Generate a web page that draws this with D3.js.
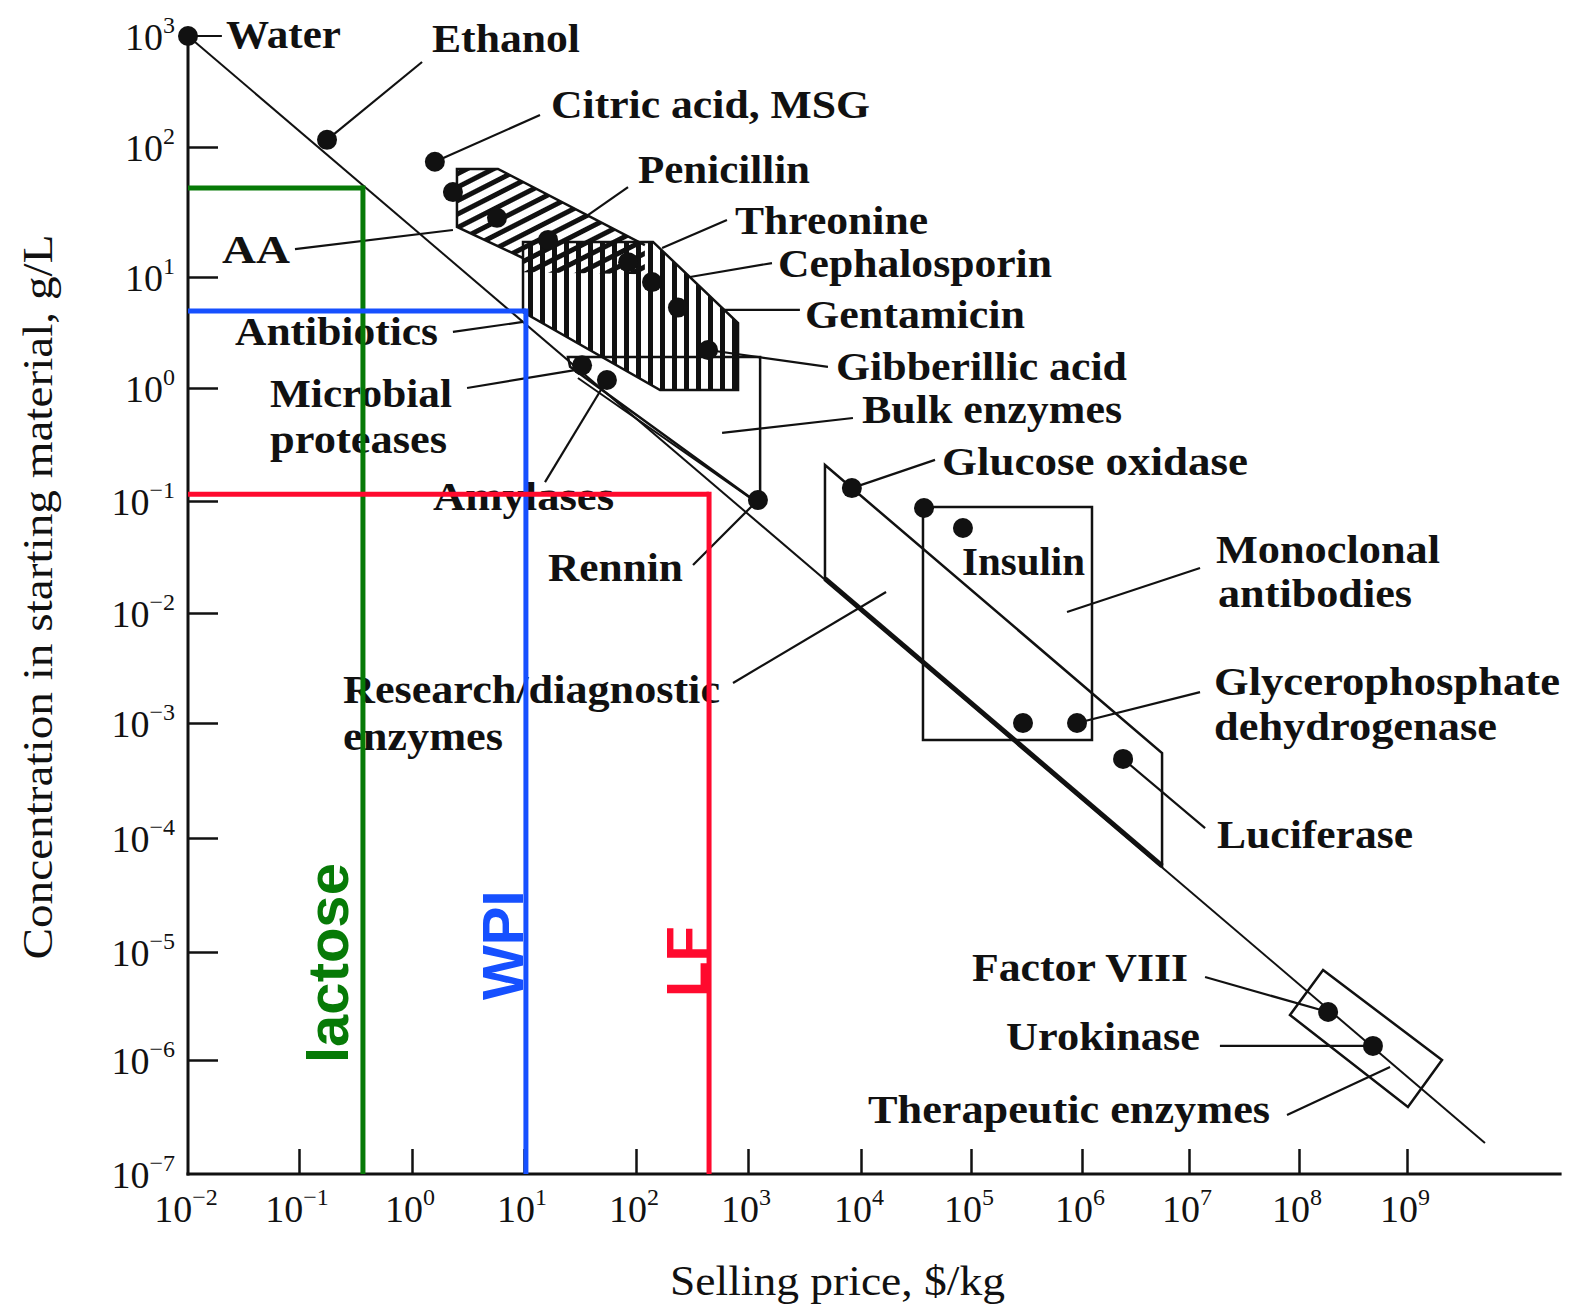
<!DOCTYPE html>
<html><head><meta charset="utf-8">
<script src="https://cdn.jsdelivr.net/npm/d3@7"></script>
<style>body{margin:0;background:#fff}</style>
</head><body>
<svg id="chart" width="1573" height="1308"></svg>
<script>
// ---------- axis ticks ----------
const xTickValues = [1e-2,1e-1,1,10,100,1e3,1e4,1e5,1e6,1e7,1e8,1e9];
const xTickExponents = ["\u22122","\u22121","0","1","2","3","4","5","6","7","8","9"];
const yTickValues = [1e3,1e2,10,1,0.1,1e-2,1e-3,1e-4,1e-5,1e-6,1e-7];
const yTickExponents = ["3","2","1","0","\u22121","\u22122","\u22123","\u22124","\u22125","\u22126","\u22127"];
const xAxisMax = 2.7e10;

// ---------- data: selling price ($/kg) and concentration (g/L) ----------
const dotPrice = [0.01, 0.177, 1.6, 2.32, 5.74, 16.4, 85, 139, 237, 440, 33, 55, 1225, 8300, 37400, 84500, 294000, 902000, 2.42e6, 1.86e8, 4.84e8];
const dotConc  = [1000, 116, 77, 45, 28.5, 19.3, 13, 9.0, 5.3, 2.2, 1.6, 1.18, 0.102, 0.13, 0.0866, 0.0574, 0.001, 0.001, 4.87e-4, 2.78e-6, 1.35e-6];

const trendLine = [[0.01, 1000], [5.27e9, 1.87e-7]];

const aaRegion = [[2.52,67.8],[5.86,67.8],[120,17.6],[120,10.5],[9.8,10.9],[9.8,14.0],[2.52,24.3]];
const aaOutline = [[9.8,14.0],[2.52,24.3],[2.52,67.8],[5.86,67.8],[120,17.6]];
const antibioticRegion = [[9.8,18.6],[142,18.6],[815,3.85],[815,0.96],[164,0.96],[9.8,4.84]];
const bulkEnzymeRegion = [[24.7,1.90],[1280,1.90],[1280,0.108],[1040,0.108],[25.8,1.55]];
const bulkEnzymeInner = [[30.3,1.23],[1085,0.104]];
const researchRegion = [[4800,0.208],[5.6e6,5.48e-4],[5.6e6,5.7e-5],[4800,0.0203]];
const researchLower = [[4800,0.0203],[5.6e6,5.7e-5]];
const insulinBox = [[3.66e4,0.0884],[1.24e6,0.0884],[1.24e6,7.11e-4],[3.66e4,7.11e-4]];
const therapeuticBox = [[1.67e8,6.81e-6],[2.11e9,1e-6],[1.02e9,3.87e-7],[8.28e7,2.61e-6]];

const leaderFrom = [[0.01,1000],[0.177,116],[1.6,77],[35.1,28.9],[171,16.7],[303,10],[562,5.05],[440,2.2],[587,0.40],[8300,0.13],[7.33e5,0.0102],[902000,0.001],[2.42e6,4.87e-4],[1.86e8,2.78e-6],[4.84e8,1.35e-6],[6.97e8,8.68e-7],[1.69e4,0.0154],[1225,0.102],[55,1.18],[28.5,1.45],[9.8,3.94],[2.32,23.0]];
const leaderTo   = [[0.0202,1000],[1.23,583],[13.9,194],[84.9,49.2],[649,27.4],[1630,12.8],[2880,5.05],[5100,1.55],[8490,0.543],[4.71e4,0.231],[1.26e7,0.0252],[1.26e7,1.91e-3],[1.40e7,1.22e-4],[1.40e7,5.87e-6],[1.91e7,1.35e-6],[7.78e7,3.30e-7],[735,2.31e-3],[323,0.0268],[15.4,0.147],[3.10,1.0],[2.32,3.20],[0.092,16.4]];

const markerNames = ["lactose", "WPI", "LF"];
const markerPrice = [0.368, 10.4, 449];
const markerConc  = [48.4, 4.94, 0.115];
const markerColors = ["#077a07", "#1650ff", "#ff0a2e"];

const labelTexts = ["Water","Ethanol","Citric acid, MSG","Penicillin","Threonine","Cephalosporin","Gentamicin","Gibberillic acid","Bulk enzymes","Glucose oxidase","Insulin","Monoclonal","antibodies","Glycerophosphate","dehydrogenase","Luciferase","Factor VIII","Urokinase","Therapeutic enzymes","Research/diagnostic","enzymes","Rennin","Amylases","Microbial","proteases","Antibiotics","AA"];

// ---------- layout (pixels) ----------
const labelLayout = [[226,48,115],[432,52,148],[551,118,319],[638,183,172],[735,234,193],[778,277,274],[805,328,220],[836,380,291],[862,423,260],[942,475,306],[962,575,123],[1216,563,224],[1218,607,194],[1214,695,346],[1214,740,283],[1217,848,196],[972,981,216],[1006,1050,194],[868,1123,402],[343,703,377],[343,750,160],[548,581,135],[433,510,181],[270,407,182],[270,453,177],[235,345,203],[222,263,68]];
const markerTextLayout = [[348,1063],[523,1000],[707,997]];

const svg = d3.select("#chart");
const x = d3.scaleLog().domain(xTickValues).range([188,299,412,524,636,748,861,971,1082,1189,1299,1407]);
const y = d3.scaleLog().domain(yTickValues).range([36,147,277,388,501,613,723,838,952,1060,1174]);
const ink = "#111";
const serif = "'Liberation Serif', 'Times New Roman', serif";

// patterns
const defs = svg.append("defs");
defs.append("pattern").attr("id","diag").attr("patternUnits","userSpaceOnUse")
  .attr("width",12).attr("height",12).attr("patternTransform","rotate(-27)")
  .append("rect").attr("x",0).attr("y",0).attr("width",12).attr("height",5).attr("fill",ink);
defs.append("pattern").attr("id","vert").attr("patternUnits","userSpaceOnUse")
  .attr("width",12).attr("height",12)
  .append("rect").attr("x",0).attr("y",0).attr("width",5).attr("height",12).attr("fill",ink);

const line = d3.line().x(d => x(d[0])).y(d => y(d[1]));
const poly = pts => line(pts) + "Z";

// axes
const yAxis = d3.axisLeft(y).tickValues(yTickValues.slice(1, -1)).tickSize(-30).tickFormat(() => "");
const gy = svg.append("g").attr("transform", `translate(${x(1e-2)},0)`).call(yAxis);
gy.select(".domain").remove();
gy.selectAll(".tick line").attr("stroke", ink).attr("stroke-width", 2.5);
const xAxis = d3.axisBottom(x).tickValues(xTickValues.slice(1)).tickSize(-25).tickFormat(() => "");
const gx = svg.append("g").attr("transform", `translate(0,${y(1e-7)})`).call(xAxis);
gx.select(".domain").remove();
gx.selectAll(".tick line").attr("stroke", ink).attr("stroke-width", 2.5);
svg.append("line").attr("x1", x(1e-2)).attr("x2", x(1e-2)).attr("y1", y(1e3)).attr("y2", y(1e-7) + 1.5)
  .attr("stroke", ink).attr("stroke-width", 3);
svg.append("line").attr("x1", x(1e-2) - 1.5).attr("x2", x(xAxisMax)).attr("y1", y(1e-7)).attr("y2", y(1e-7))
  .attr("stroke", ink).attr("stroke-width", 3);

// tick labels
yTickValues.forEach((v, i) => {
  const t = svg.append("text").attr("x", 175).attr("y", y(v) + 14).attr("text-anchor", "end")
    .attr("font-family", serif).attr("fill", ink);
  t.append("tspan").attr("font-size", 38).text("10");
  t.append("tspan").attr("font-size", 24).attr("dy", -17).text(yTickExponents[i]);
});
xTickValues.forEach((v, i) => {
  const t = svg.append("text").attr("x", x(v) - 2).attr("y", 1222).attr("text-anchor", "middle")
    .attr("font-family", serif).attr("fill", ink);
  t.append("tspan").attr("font-size", 38).text("10");
  t.append("tspan").attr("font-size", 24).attr("dy", -17).text(xTickExponents[i]);
});

// axis titles
svg.append("text").attr("transform", "translate(52,597) rotate(-90)").attr("text-anchor", "middle")
  .attr("font-family", serif).attr("font-size", 42).attr("fill", ink)
  .attr("textLength", 725).attr("lengthAdjust", "spacingAndGlyphs")
  .text("Concentration in starting material, g/L");
svg.append("text").attr("x", 670).attr("y", 1295)
  .attr("font-family", serif).attr("font-size", 42).attr("fill", ink)
  .attr("textLength", 335).attr("lengthAdjust", "spacingAndGlyphs")
  .text("Selling price, $/kg");

// regions
svg.append("path").attr("d", poly(aaRegion)).attr("fill", "url(#diag)").attr("stroke", "none");
svg.append("path").attr("d", line(aaOutline)).attr("fill", "none").attr("stroke", ink).attr("stroke-width", 2.5);
svg.append("path").attr("d", poly(antibioticRegion)).attr("fill", "url(#vert)").attr("stroke", ink).attr("stroke-width", 2.5);
svg.append("path").attr("d", poly(bulkEnzymeRegion)).attr("fill", "none").attr("stroke", ink).attr("stroke-width", 2.5);
svg.append("path").attr("d", line(bulkEnzymeInner)).attr("fill", "none").attr("stroke", ink).attr("stroke-width", 2);
svg.append("path").attr("d", poly(researchRegion)).attr("fill", "none").attr("stroke", ink).attr("stroke-width", 2.5);
svg.append("path").attr("d", line(researchLower)).attr("fill", "none").attr("stroke", ink).attr("stroke-width", 5);
svg.append("path").attr("d", poly(insulinBox)).attr("fill", "none").attr("stroke", ink).attr("stroke-width", 2.5);
svg.append("path").attr("d", poly(therapeuticBox)).attr("fill", "none").attr("stroke", ink).attr("stroke-width", 2.5);

// trend line
svg.append("path").attr("d", line(trendLine)).attr("fill", "none").attr("stroke", ink).attr("stroke-width", 2);

// leaders
leaderFrom.forEach((a, i) => {
  svg.append("path").attr("d", line([a, leaderTo[i]])).attr("fill", "none").attr("stroke", ink).attr("stroke-width", 2.2);
});

// dots
svg.append("g").selectAll("circle").data(dotPrice).join("circle")
  .attr("cx", d => x(d)).attr("cy", (d, i) => y(dotConc[i])).attr("r", 10).attr("fill", ink);

// labels
labelTexts.forEach((s, i) => {
  const [lx, ly, w] = labelLayout[i];
  svg.append("text").attr("x", lx).attr("y", ly).attr("font-family", serif).attr("font-size", 41)
    .attr("font-weight", "bold").attr("fill", ink)
    .attr("textLength", w).attr("lengthAdjust", "spacingAndGlyphs").text(s);
});

// coloured product markers
markerNames.forEach((name, i) => {
  const c = markerColors[i];
  svg.append("line").attr("x1", x(1e-2)).attr("x2", x(markerPrice[i])).attr("y1", y(markerConc[i])).attr("y2", y(markerConc[i]))
    .attr("stroke", c).attr("stroke-width", 5);
  svg.append("line").attr("x1", x(markerPrice[i])).attr("x2", x(markerPrice[i])).attr("y1", y(markerConc[i]) - 2.5).attr("y2", y(1e-7))
    .attr("stroke", c).attr("stroke-width", 5);
  const [tx, ty] = markerTextLayout[i];
  svg.append("text").attr("transform", `translate(${tx},${ty}) rotate(-90)`)
    .attr("font-family", "'Liberation Sans', Arial, sans-serif").attr("font-weight", "bold")
    .attr("font-size", 58).attr("fill", c).text(name);
});
</script>
</body></html>
